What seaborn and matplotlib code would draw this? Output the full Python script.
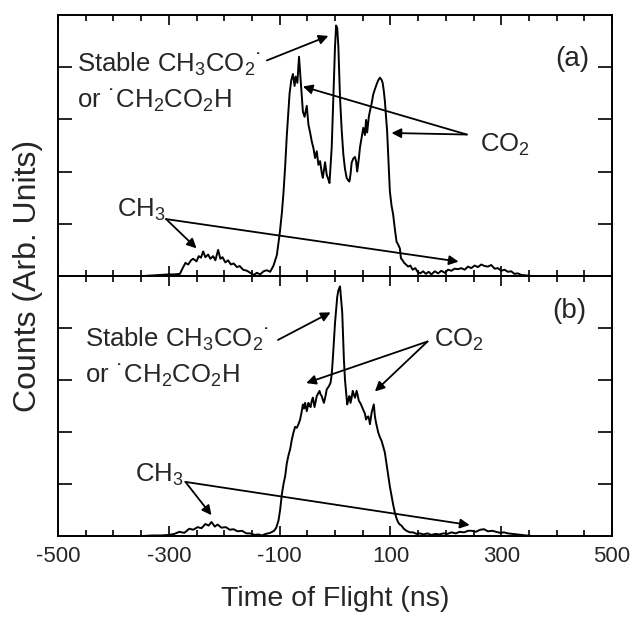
import matplotlib
matplotlib.use("Agg")
import matplotlib.pyplot as plt
from matplotlib.ticker import MultipleLocator, FixedLocator, NullFormatter
import seaborn as sns

# time of flight (ns) and counts for panel (a)
tof_a = [-345, -330, -315, -300, -290, -280, -275, -270, -265, -260,
         -256, -250, -246, -242, -238, -234, -229, -225, -220, -216,
         -211, -207, -203, -198, -193, -188, -183, -177, -172, -166,
         -159, -153, -147, -141, -135, -129, -123, -117, -111, -105,
         -100, -96, -93, -90, -87, -84, -82, -79, -76, -73,
         -71, -68, -65, -62, -58, -55, -51, -48, -45, -42,
         -39, -36, -33, -30, -27, -24, -22, -18, -15, -12,
         -10, -6, -2, 0, 2, 4, 6, 9, 12, 15,
         18, 21, 24, 26, 28, 30, 33, 36, 38, 40,
         43, 45, 48, 51, 54, 56, 58, 61, 63, 66,
         69, 72, 75, 78, 81, 84, 86, 88, 90, 92,
         94, 97, 99, 102, 105, 108, 111, 114, 117, 119,
         122, 125, 128, 132, 136, 140, 145, 149, 154, 159,
         164, 169, 174, 180, 186, 192, 198, 204, 210, 216,
         222, 228, 234, 240, 246, 252, 258, 264, 270, 276,
         282, 288, 294, 300, 306, 312, 318, 324, 330, 336,
         345, 355, 365]
counts_a = [0.00, 0.01, 0.02, 0.03, 0.03, 0.04, 0.15, 0.25, 0.22, 0.30,
            0.33, 0.28, 0.38, 0.35, 0.47, 0.36, 0.41, 0.33, 0.38, 0.30,
            0.50, 0.33, 0.36, 0.26, 0.30, 0.22, 0.24, 0.17, 0.19, 0.12,
            0.10, 0.06, 0.02, 0.06, 0.03, 0.09, 0.11, 0.08, 0.20, 0.40,
            0.80, 1.20, 1.60, 2.10, 2.70, 3.20, 3.50, 3.75, 3.87, 3.64,
            3.82, 3.70, 4.20, 3.75, 3.15, 3.05, 3.26, 2.90, 2.75, 2.58,
            2.45, 2.26, 2.39, 2.13, 2.20, 1.98, 1.88, 2.18, 1.94, 1.85,
            1.78, 2.46, 3.74, 4.40, 4.80, 4.75, 4.40, 3.42, 2.80, 2.33,
            2.05, 1.88, 1.83, 1.81, 1.95, 2.17, 2.25, 2.28, 2.20, 2.00,
            2.25, 2.46, 2.65, 2.84, 2.70, 2.99, 2.75, 3.05, 3.16, 3.30,
            3.48, 3.58, 3.67, 3.75, 3.80, 3.76, 3.70, 3.55, 3.35, 3.05,
            2.78, 2.10, 1.62, 1.35, 1.17, 0.90, 0.66, 0.60, 0.53, 0.34,
            0.30, 0.25, 0.22, 0.18, 0.20, 0.12, 0.15, 0.08, 0.05, 0.09,
            0.04, 0.08, 0.03, 0.09, 0.05, 0.10, 0.06, 0.12, 0.10, 0.14,
            0.13, 0.15, 0.12, 0.18, 0.15, 0.20, 0.17, 0.22, 0.19, 0.18,
            0.21, 0.14, 0.15, 0.10, 0.12, 0.08, 0.09, 0.04, 0.05, 0.02,
            0.01, 0.00, 0.00]

# panel (b)
tof_b = [-345, -330, -315, -300, -290, -281, -272, -263, -256, -248,
         -241, -234, -228, -223, -217, -212, -205, -197, -190, -183,
         -176, -168, -160, -153, -145, -138, -132, -125, -117, -110,
         -106, -102, -99, -96, -93, -90, -87, -84, -81, -78,
         -75, -72, -69, -66, -63, -60, -58, -56, -54, -51,
         -48, -46, -44, -42, -40, -37, -35, -33, -30, -28,
         -26, -24, -22, -20, -17, -15, -11, -8, -6, -4,
         -2, 0, 2, 4, 6, 9, 11, 13, 16, 18,
         20, 22, 24, 26, 28, 30, 32, 34, 36, 38,
         39, 41, 43, 46, 48, 50, 52, 54, 56, 58,
         60, 62, 63, 66, 68, 70, 72, 74, 76, 78,
         81, 84, 87, 90, 93, 96, 99, 102, 105, 108,
         111, 114, 117, 120, 124, 129, 135, 141, 147, 153,
         160, 167, 174, 181, 188, 196, 203, 210, 218, 225,
         233, 240, 247, 254, 262, 269, 276, 284, 291, 298,
         305, 312, 320, 328, 336, 345, 356]
counts_b = [0.00, 0.01, 0.01, 0.02, 0.04, 0.08, 0.06, 0.14, 0.12, 0.17,
            0.15, 0.23, 0.20, 0.27, 0.18, 0.22, 0.16, 0.17, 0.12, 0.13,
            0.09, 0.10, 0.05, 0.05, 0.02, 0.03, 0.01, 0.04, 0.06, 0.10,
            0.16, 0.30, 0.51, 0.80, 1.00, 1.15, 1.40, 1.55, 1.67, 1.85,
            1.99, 2.10, 2.08, 2.15, 2.24, 2.40, 2.53, 2.45, 2.56, 2.40,
            2.56, 2.50, 2.48, 2.60, 2.66, 2.48, 2.58, 2.69, 2.75, 2.79,
            2.72, 2.69, 2.62, 2.56, 2.70, 2.82, 2.88, 2.95, 3.10, 3.40,
            3.75, 4.10, 4.35, 4.60, 4.72, 4.80, 4.55, 4.30, 3.40, 3.00,
            2.76, 2.53, 2.62, 2.69, 2.56, 2.66, 2.79, 2.72, 2.66, 2.75,
            2.79, 2.70, 2.60, 2.55, 2.50, 2.45, 2.40, 2.35, 2.24, 2.28,
            2.30, 2.22, 2.15, 2.37, 2.45, 2.53, 2.30, 2.18, 2.08, 1.99,
            1.90, 1.83, 1.72, 1.60, 1.38, 1.15, 0.95, 0.77, 0.60, 0.45,
            0.34, 0.26, 0.22, 0.20, 0.14, 0.10, 0.07, 0.07, 0.04, 0.05,
            0.03, 0.05, 0.02, 0.04, 0.03, 0.05, 0.04, 0.07, 0.05, 0.08,
            0.07, 0.10, 0.10, 0.08, 0.12, 0.13, 0.09, 0.10, 0.08, 0.06,
            0.07, 0.05, 0.04, 0.03, 0.02, 0.01, 0.00]

x_ticks = [-500, -300, -100, 100, 300, 500]
x_tick_labels = ["-500", "-300", "-100", "100", "300", "500"]

sns.set_style("ticks")
plt.rcParams['font.family'] = ['Liberation Sans', 'DejaVu Sans']
plt.rcParams['mathtext.default'] = 'regular'

fig = plt.figure(figsize=(6.32, 6.21), dpi=100)
ax_a = fig.add_axes([0.0918, 0.5556, 0.8766, 0.4202])
ax_b = fig.add_axes([0.0918, 0.1369, 0.8766, 0.4187])

sns.lineplot(x=tof_a, y=counts_a, ax=ax_a, color='black', lw=1.4, estimator=None)
sns.lineplot(x=tof_b, y=counts_b, ax=ax_b, color='black', lw=1.4, estimator=None)

for ax in (ax_a, ax_b):
    ax.set_xlim(-500, 500)
    ax.set_ylim(0, 5)
    ax.xaxis.set_major_locator(FixedLocator(x_ticks))
    ax.xaxis.set_minor_locator(MultipleLocator(50))
    ax.yaxis.set_major_locator(FixedLocator([1, 2, 3, 4]))
    ax.set_yticklabels([])
    ax.tick_params(axis='both', which='both', direction='in',
                   top=True, right=True, width=1.2, color='black')
    ax.tick_params(axis='x', which='major', length=7)
    ax.tick_params(axis='x', which='minor', length=4)
    ax.tick_params(axis='y', which='major', length=10)
    for s in ax.spines.values():
        s.set_linewidth(1.4)
        s.set_color('black')

ax_a.xaxis.set_major_formatter(NullFormatter())
ax_b.set_xticklabels(x_tick_labels)
ax_b.tick_params(axis='x', labelsize=16, pad=7)

arrow = dict(arrowstyle='-|>', color='black', lw=1.3, mutation_scale=14,
             shrinkA=0, shrinkB=0)
fs = 18.5
stable = "Stable CH$_3$CO$_2$\u02d9"
radical = "or \u02d9CH$_2$CO$_2$H"

# panel (a) labels
ax_a.text(-466, 3.92, stable, fontsize=fs, va='baseline')
ax_a.text(-466, 3.23, radical, fontsize=fs, va='baseline')
ax_a.annotate("", xy=(-12, 4.6), xytext=(-123, 4.13), arrowprops=arrow)
ax_a.text(262, 2.38, "CO$_2$", fontsize=fs, va='baseline')
ax_a.annotate("", xy=(-58, 3.63), xytext=(238, 2.71), arrowprops=arrow)
ax_a.annotate("", xy=(102, 2.74), xytext=(238, 2.71), arrowprops=arrow)
ax_a.text(-394, 1.13, "CH$_3$", fontsize=fs, va='baseline')
ax_a.annotate("", xy=(-250, 0.53), xytext=(-305, 1.09), arrowprops=arrow)
ax_a.annotate("", xy=(223, 0.275), xytext=(-305, 1.09), arrowprops=arrow)
ax_a.text(397, 4.02, "(a)", fontsize=20, va='baseline')

# panel (b) labels
ax_b.text(-452, 3.63, stable, fontsize=fs, va='baseline')
ax_b.text(-452, 2.94, radical, fontsize=fs, va='baseline')
ax_b.annotate("", xy=(-8, 4.3), xytext=(-103, 3.77), arrowprops=arrow)
ax_b.text(178, 3.63, "CO$_2$", fontsize=fs, va='baseline')
ax_b.annotate("", xy=(-52, 2.94), xytext=(167, 3.74), arrowprops=arrow)
ax_b.annotate("", xy=(72, 2.78), xytext=(167, 3.74), arrowprops=arrow)
ax_b.text(-361, 1.04, "CH$_3$", fontsize=fs, va='baseline')
ax_b.annotate("", xy=(-223, 0.40), xytext=(-270, 1.04), arrowprops=arrow)
ax_b.annotate("", xy=(243, 0.21), xytext=(-270, 1.04), arrowprops=arrow)
ax_b.text(392, 4.19, "(b)", fontsize=20, va='baseline')

ax_a.set_xlabel("")
ax_b.set_xlabel("Time of Flight (ns)", fontsize=20.5, labelpad=14)
fig.text(0.045, 0.555, "Counts (Arb. Units)", rotation=90, fontsize=23,
         ha='center', va='center')

fig.savefig("out.png", dpi=100)
